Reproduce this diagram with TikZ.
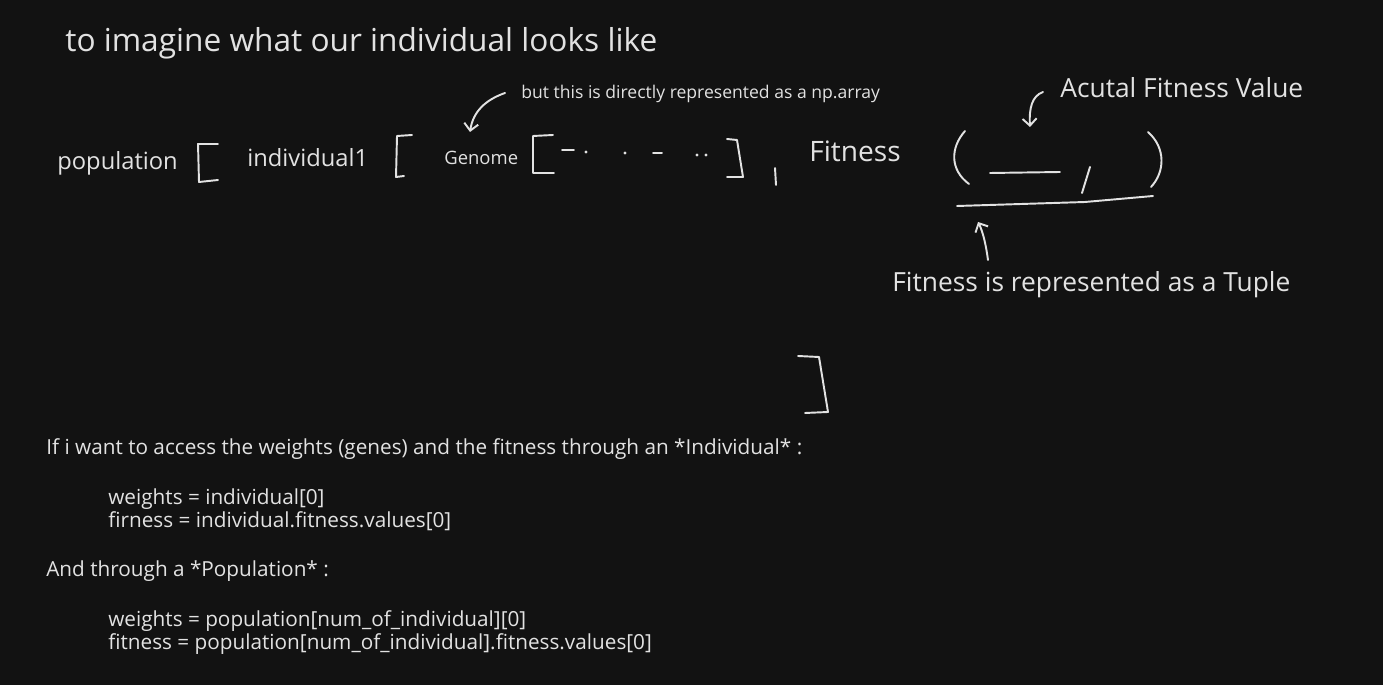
\documentclass[tikz,border=0pt]{standalone}
\usepackage{fontspec}
\setmainfont{Open Sans}
\usetikzlibrary{arrows.meta,positioning}
\definecolor{BoardBg}{HTML}{121212}
\definecolor{ChalkInk}{HTML}{E2E2E2}

\begin{document}
\begin{tikzpicture}[x=0.02cm, y=-0.02cm,
  every node/.style={text=ChalkInk, inner sep=0pt, anchor=base west},
  chalk/.style={draw=ChalkInk, line width=1.1pt, line cap=round, line join=round},
  pointer/.style={chalk, -{Straight Barb[length=4pt,width=8pt,line width=1.1pt]}},
  bigtxt/.style={font=\fontsize{18}{21}\selectfont},
  fittxt/.style={font=\fontsize{16}{19}\selectfont},
  midtxt/.style={font=\fontsize{13.5}{16}\selectfont},
  notetxt/.style={font=\fontsize{15}{18}\selectfont},
  smalltxt/.style={font=\fontsize{10.5}{13}\selectfont},
  tinytxt/.style={font=\fontsize{10}{12}\selectfont},
  codetxt/.style={font=\fontsize{11.8}{14}\selectfont}]
  \fill[BoardBg] (0,0) rectangle (1383,685);
  \useasboundingbox (0,0) rectangle (1383,685);

  % heading
  \node[bigtxt] (title) at (65,52) {to imagine what our individual looks like};

  % nested structure
  \node[midtxt] (pop)  at (57,170)  {population};
  \node[midtxt] (ind)  at (247,167) {individual1};
  \node[smalltxt] (gen) at (444,165) {Genome};
  \node[fittxt] (fit)  at (809,162) {Fitness};

  \draw[chalk] (218,144) -- (198,144) -- (199,182) -- (218,180);
  \draw[chalk] (412,135) -- (397,136) -- (396,177) -- (404,176);
  \draw[chalk] (553,135) -- (533,136) -- (533,173) -- (554,173);
  \draw[chalk] (727,139) -- (737,140) -- (743,177) -- (727,177);
  \draw[chalk] (775,168) -- (776,185);
  \draw[chalk] (798,356) -- (819,357) -- (828,412) -- (805,413);

  % genes inside the genome
  \draw[chalk] (562,150) -- (574,150);
  \draw[chalk] (653,153) -- (662,153);
  \foreach \gx/\gy in {586/152, 625/153, 697/155, 706/155}
    \fill[ChalkInk] (\gx,\gy) circle (1.6);

  % fitness tuple
  \draw[chalk] (965,131) .. controls (950,148) and (950,170) .. (969,184);
  \draw[chalk] (1148,132) .. controls (1166,148) and (1165,172) .. (1151,187);
  \draw[chalk] (990,173) -- (1060,172);
  \draw[chalk] (1090,167) -- (1082,193);
  \draw[chalk] (957,206) -- (1085,202) -- (1153,196);

  % notes
  \node[tinytxt] (arr) at (521,99) {but this is directly represented as a np.array};
  \node[notetxt] (val) at (1060,98) {Acutal Fitness Value};
  \node[notetxt] (tup) at (892,292) {Fitness is represented as a Tuple};
  \coordinate (arrTail) at (505,93);
  \coordinate (arrHead) at (470,132);
  \coordinate (valTail) at (1043,92);
  \coordinate (valHead) at (1030,127);
  \coordinate (tupTail) at (988,260);
  \coordinate (tupHead) at (978,222);
  \draw[pointer] (arrTail) .. controls (485,100) and (473,112) .. (arrHead);
  \draw[pointer] (valTail) .. controls (1032,96) and (1029,108) .. (valHead);
  \draw[pointer] (tupTail) .. controls (986,245) and (983,232) .. (tupHead);

  % access notes
  \node[codetxt] (q1) at (46,455)  {If i want to access the weights (genes) and the fitness through an *Individual* :};
  \node[codetxt] (c1) at (108,505) {weights = individual[0]};
  \node[codetxt] (c2) at (108,528) {firness = individual.fitness.values[0]};
  \node[codetxt] (q2) at (46,577)  {And through a *Population* :};
  \node[codetxt] (c3) at (108,626) {weights = population[num\_of\_individual][0]};
  \node[codetxt] (c4) at (108,649) {fitness = population[num\_of\_individual].fitness.values[0]};
\end{tikzpicture}
\end{document}
